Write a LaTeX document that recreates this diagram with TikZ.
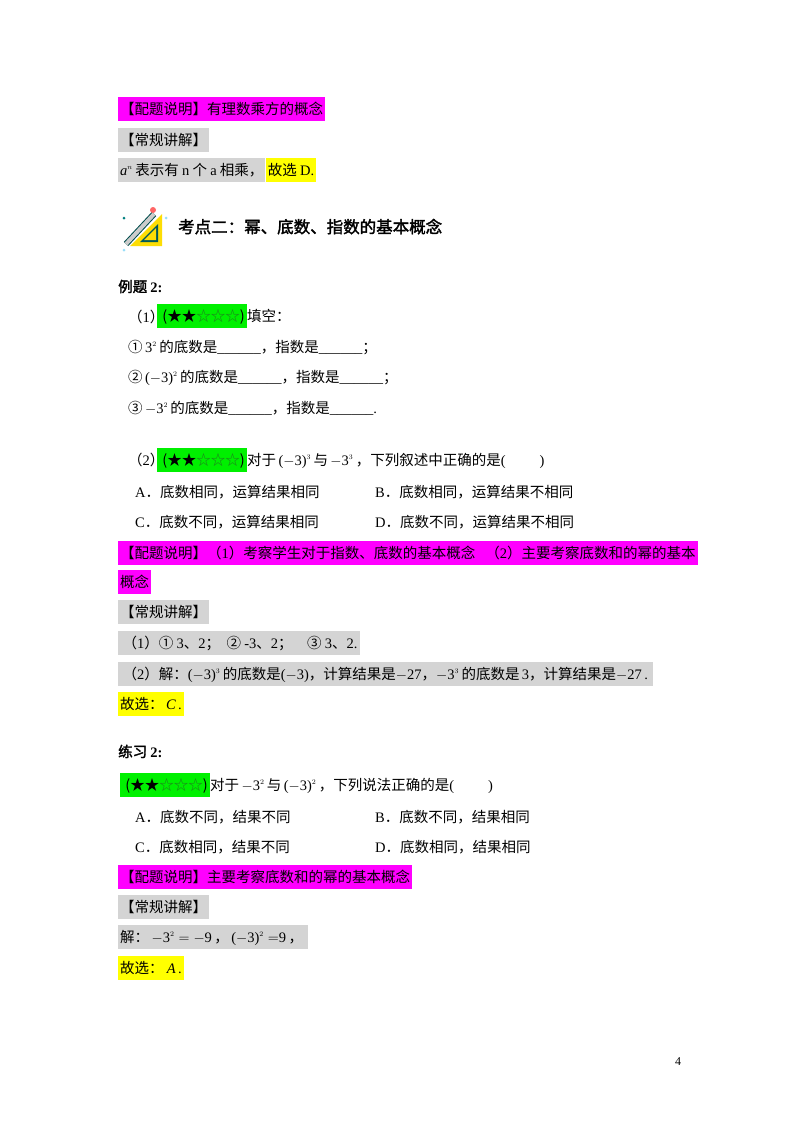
\documentclass[tikz,border=0pt]{standalone}
\usepackage{fontspec}
\setmainfont{Noto Sans CJK SC}
\newfontfamily\lat{Liberation Serif}
\newfontfamily\cjkb{Noto Sans CJK SC}[FakeBold=2]
\definecolor{mag}{RGB}{255,0,255}
\definecolor{gry}{RGB}{212,212,212}
\definecolor{grn}{RGB}{0,240,0}
\definecolor{yel}{RGB}{255,255,0}
\definecolor{stg}{RGB}{30,130,30}
\newcommand{\stars}{\ (★★{\color{stg}☆☆☆})\ }
\begin{document}
\begin{tikzpicture}[x=1pt,y=-1pt,font=\fontsize{14.5}{17}\selectfont,
  t/.style={anchor=west,inner sep=0pt,text height=13pt,text depth=3pt},
  hl/.style={t,inner xsep=2pt,inner ysep=4pt}]
\useasboundingbox (0,0) rectangle (800,1132);
\fill[white] (0,0) rectangle (800,1132);
% block 1
\node[hl,fill=mag] (c1) at (118,109) {【配题说明】有理数乘方的概念};
\node[hl,fill=gry] (g1) at (118,140) {【常规讲解】};
\node[hl,fill=gry] (g2) at (118,170) {{\lat\itshape a}$^{\scriptscriptstyle n}$\,表示有 {\lat n} 个 {\lat a} 相乘，};
\node[hl,fill=yel,anchor=west] (y1) at (g2.east) {故选 {\lat D.}};
% icon
\begin{scope}[shift={(122,206)}]
\fill[yellow!80!orange] (8,40) -- (40,8) -- (40,40) -- cycle;
\fill[teal!70!black] (18,36) -- (36,18) -- (36,36) -- cycle;
\fill[yellow!80!orange] (22,34) -- (34,22) -- (34,34) -- cycle;
\draw[line width=6pt,teal!60!black] (4,38) -- (32,8);
\draw[line width=4pt,gray!40] (4,38) -- (32,8);
\fill[red!60] (31,4) circle (3);
\fill[teal] (2,12) circle (1.5);
\fill[cyan!40] (44,12) circle (1.5);
\fill[cyan!40] (2,44) circle (1.5);
\end{scope}
\node[t] (h) at (178,228) {\cjkb\fontsize{16.5}{19}\selectfont 考点二：幂、底数、指数的基本概念};
% example
\node[t] (e2) at (118,287) {\cjkb 例题 \lat\bfseries 2:};
\node[t] (p1) at (128,317) {（{\lat 1}）};
\node[hl,fill=grn] (s1) at (157,316) {\stars};
\node[t,anchor=west] at (s1.east) {填空：};
\node[t] (q1) at (128,347) {①\,{\lat 3}$^{\scriptscriptstyle 2}$\,的底数是{\lat \_\_\_\_\_\_}，指数是{\lat\_\_\_\_\_\_}；};
\node[t] (q2) at (128,377) {②\,{\lat(}$-${\lat 3)}$^{\scriptscriptstyle 2}$\,的底数是{\lat \_\_\_\_\_\_}，指数是{\lat\_\_\_\_\_\_}；};
\node[t] (q3) at (128,408) {③\,$-${\lat 3}$^{\scriptscriptstyle 2}$\,的底数是{\lat \_\_\_\_\_\_}，指数是{\lat\_\_\_\_\_\_}{\lat .}};
\node[t] (p2) at (128,460) {（{\lat 2}）};
\node[hl,fill=grn] (s2) at (157,460) {\stars};
\node[t,anchor=west] at (s2.east) {对于\,{\lat (}$-${\lat 3)}$^{\scriptscriptstyle 3}$\,与\,$-${\lat 3}$^{\scriptscriptstyle 3}$\,，下列叙述中正确的是{\lat (\hspace{34pt})}};
\node[t] (oa) at (135,492) {{\lat A}．底数相同，运算结果相同};
\node[t] (ob) at (375,492) {{\lat B}．底数相同，运算结果不相同};
\node[t] (oc) at (135,522) {{\lat C}．底数不同，运算结果相同};
\node[t] (od) at (375,522) {{\lat D}．底数不同，运算结果不相同};
\node[hl,fill=mag] (c2) at (118,553) {【配题说明】（{\lat 1}）考察学生对于指数、底数的基本概念\hspace{10pt}（{\lat 2}）主要考察底数和的幂的基本};
\node[hl,fill=mag] (c3) at (118,582) {概念};
\node[hl,fill=gry] (g3) at (118,612) {【常规讲解】};
\node[hl,fill=gry] (g4) at (118,643) {\,（{\lat 1}）① {\lat 3}、{\lat 2}；\ \ ② {\lat -3}、{\lat 2}；\quad ③ {\lat 3}、{\lat 2.}\ };
\node[hl,fill=gry] (g5) at (118,674) {\,（{\lat 2}）解：{\lat (}$-${\lat 3)}$^{\scriptscriptstyle 3}$\,的底数是{\lat (}$-${\lat 3)}，计算结果是$-${\lat 27}，$-${\lat 3}$^{\scriptscriptstyle 3}$\,的底数是\,{\lat 3}，计算结果是$-${\lat 27}\,{\lat .}\ \ };
\node[hl,fill=yel] (y2) at (118,704) {故选：\,{\lat\itshape C}\,{\lat .}\ };
% practice
\node[t] (l2) at (118,752) {\cjkb 练习 \lat\bfseries 2:};
\node[hl,fill=grn] (s3) at (120,785) {\stars};
\node[t,anchor=west] at (s3.east) {对于\,$-${\lat 3}$^{\scriptscriptstyle 2}$\,与\,{\lat (}$-${\lat 3)}$^{\scriptscriptstyle 2}$\,，下列说法正确的是{\lat (\hspace{34pt})}};
\node[t] (ra) at (135,817) {{\lat A}．底数不同，结果不同};
\node[t] (rb) at (375,817) {{\lat B}．底数不同，结果相同};
\node[t] (rc) at (135,847) {{\lat C}．底数相同，结果不同};
\node[t] (rd) at (375,847) {{\lat D}．底数相同，结果相同};
\node[hl,fill=mag] (c4) at (118,877) {【配题说明】主要考察底数和的幂的基本概念};
\node[hl,fill=gry] (g6) at (118,907) {【常规讲解】};
\node[hl,fill=gry] (g7) at (118,937) {解：\,$-${\lat 3}$^{\scriptscriptstyle 2}=-${\lat 9}\,，\,{\lat (}$-${\lat 3)}$^{\scriptscriptstyle 2}=${\lat 9}\,，\ \ };
\node[hl,fill=yel] (y3) at (118,968) {故选：\ {\lat\itshape A}\,{\lat .}\ };
\node[t] (pg) at (675,1060) {\lat\fontsize{12}{14}\selectfont 4};
\end{tikzpicture}
\end{document}
